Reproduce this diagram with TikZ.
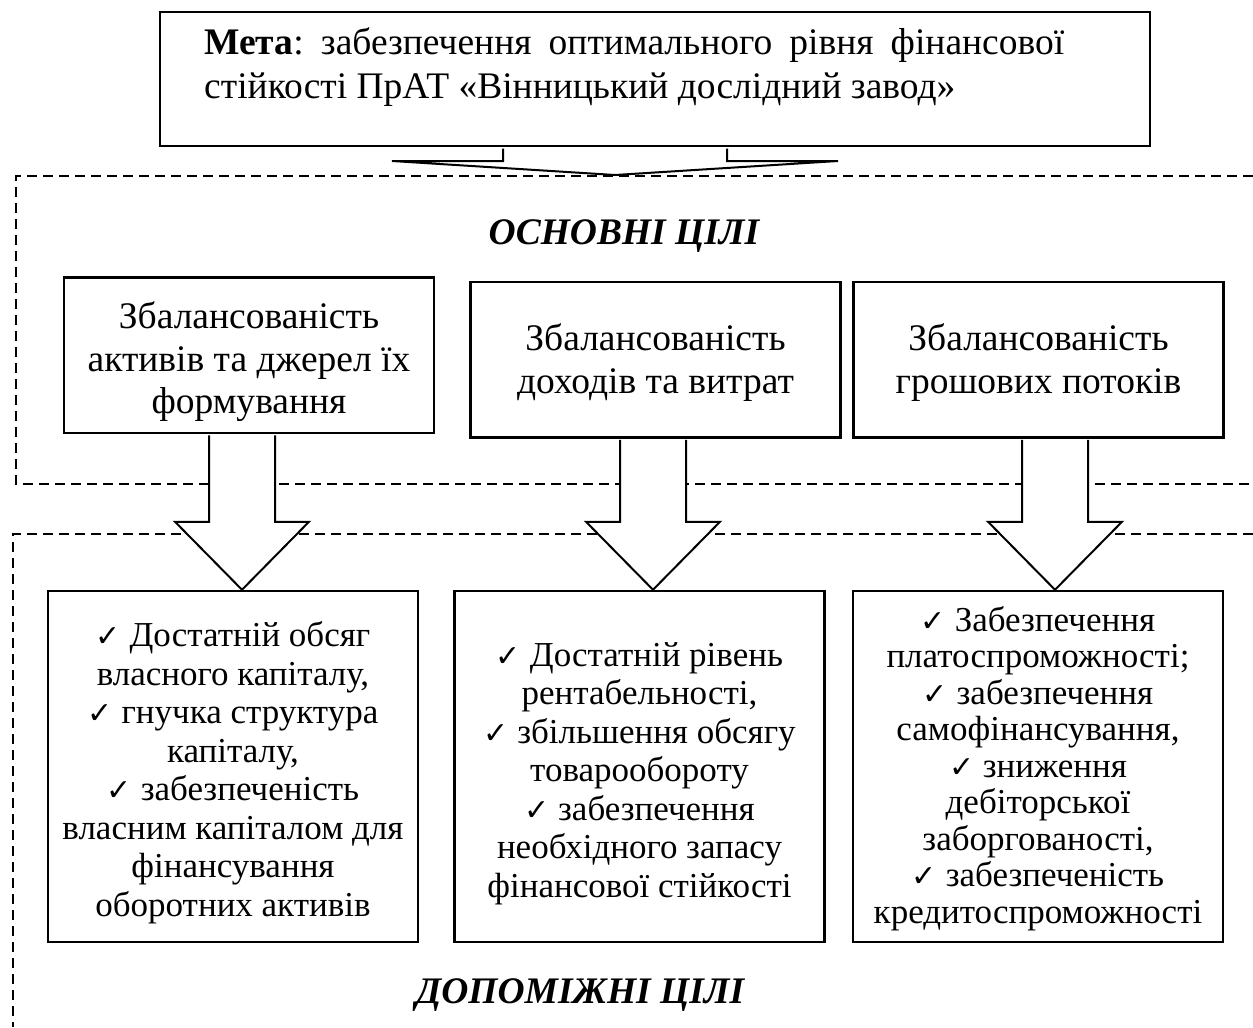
\documentclass[tikz,border=0pt]{standalone}
\usepackage{fontspec}
\setmainfont{Liberation Serif}
\newfontfamily\chkfont{DejaVu Sans}
\usetikzlibrary{calc,positioning}
\newcommand{\chk}{{\chkfont\fontsize{12}{12}\selectfont ✓}\ }
\frenchspacing

\begin{document}
\begin{tikzpicture}[x=0.4pt,y=-0.4pt,
	box/.style={draw,fill=white,line width=1pt,inner sep=0pt},
	goalbox/.style={box,minimum width=148pt,minimum height=62.2pt},
	taskbox/.style={box,minimum width=148pt,minimum height=140.4pt},
	goaltext/.style={align=center,inner sep=0pt,font=\fontsize{15}{17}\selectfont},
	tasktext/.style={align=center,inner sep=0pt,font=\fontsize{14}{15.4}\selectfont},
	area/.style={line width=0.8pt,dash pattern=on 4pt off 2.4pt},
	blockarrow/.style={draw,fill=white,line width=0.8pt,line join=miter},
	heading/.style={font=\fontsize{15}{18}\selectfont\bfseries\itshape}]
	\useasboundingbox (0,0) rectangle (1253,1027);
	% dashed areas
	\draw[area] (1253,176) -- (16,176) -- (16,484) -- (1253,484);
	\draw[area] (1253,534) -- (13,534) -- (13,1027);
	% aim
	\node[box,minimum width=396pt,minimum height=53.6pt] (goal) at (655,79) {};
	\node[anchor=north west,text width=344pt,align=justify,inner sep=0pt,
	      font=\fontsize{15}{17.8}\selectfont] (goaltxt) at ($(goal.north west)+(45,16)$)
	      {\textbf{Мета}: забезпечення оптимального рівня фінансової\linebreak
	       стійкості ПрАТ «Вінницький дослідний завод»};
	\coordinate (ts) at ($(615,0 |- goal.south)+(0,1.3)$);
	\coordinate (tt) at (615,175);
	\draw[blockarrow] ($(ts)+(-112,0)$) -- ($(tt)+(-112,-14)$) -- ($(tt)+(-223,-14)$) -- (tt)
	   -- ($(tt)+(223,-14)$) -- ($(tt)+(112,-14)$) -- ($(ts)+(112,0)$);
	% main goals
	\node[heading] (mainhead) at (624,236) {ОСНОВНІ ЦІЛІ};
	\node[goalbox] (m1) at (249,355) {};
	\node[goalbox] (m2) at (655.5,359.5) {};
	\node[goalbox] (m3) at (1038.5,359.5) {};
	\node[goaltext] at ($(m1)+(0,7)$) {Збалансованість\\ активів та джерел їх\\ формування};
	\node[goaltext] at ($(m2)+(0,3)$) {Збалансованість\\ доходів та витрат};
	\node[goaltext] at ($(m3)+(0,3)$) {Збалансованість\\ грошових потоків};
	% auxiliary goals
	\node[taskbox] (b1) at (233,766.5) {};
	\node[taskbox] (b2) at (639.5,766.5) {};
	\node[taskbox] (b3) at (1038,766.5) {};
	\node[tasktext] at ($(b1)+(0,6)$) {\chk Достатній обсяг\\ власного капіталу,\\
	   \chk гнучка структура\\ капіталу,\\ \chk забезпеченість\\ власним капіталом для\\
	   фінансування\\ оборотних активів};
	\node[tasktext] at ($(b2)+(0,7)$) {\chk Достатній рівень\\ рентабельності,\\
	   \chk збільшення обсягу\\ товарообороту\\ \chk забезпечення\\ необхідного запасу\\
	   фінансової стійкості};
	\node[tasktext,font=\fontsize{14}{14.6}\selectfont] at ($(b3)+(0,2)$) {\chk Забезпечення\\ платоспроможності;\\
	   \chk забезпечення\\ самофінансування,\\ \chk зниження\\ дебіторської\\
	   заборгованості,\\ \chk забезпеченість\\ кредитоспроможності};
	\node[heading] (auxhead) at (580,995) {ДОПОМІЖНІ ЦІЛІ};
	% arrows
	\foreach \x/\m/\b in {242/m1/b1,653/m2/b2,1055/m3/b3}{
	  \coordinate (s) at ($(\x,0 |- \m.south)+(0,1.3)$);
	  \coordinate (t) at (\x,0 |- \b.north);
	  \draw[blockarrow] ($(s)+(-33,0)$) -- ($(t)+(-33,-68)$) -- ($(t)+(-67,-68)$) -- (t)
	     -- ($(t)+(67,-68)$) -- ($(t)+(33,-68)$) -- ($(s)+(33,0)$);
	}
\end{tikzpicture}
\end{document}
